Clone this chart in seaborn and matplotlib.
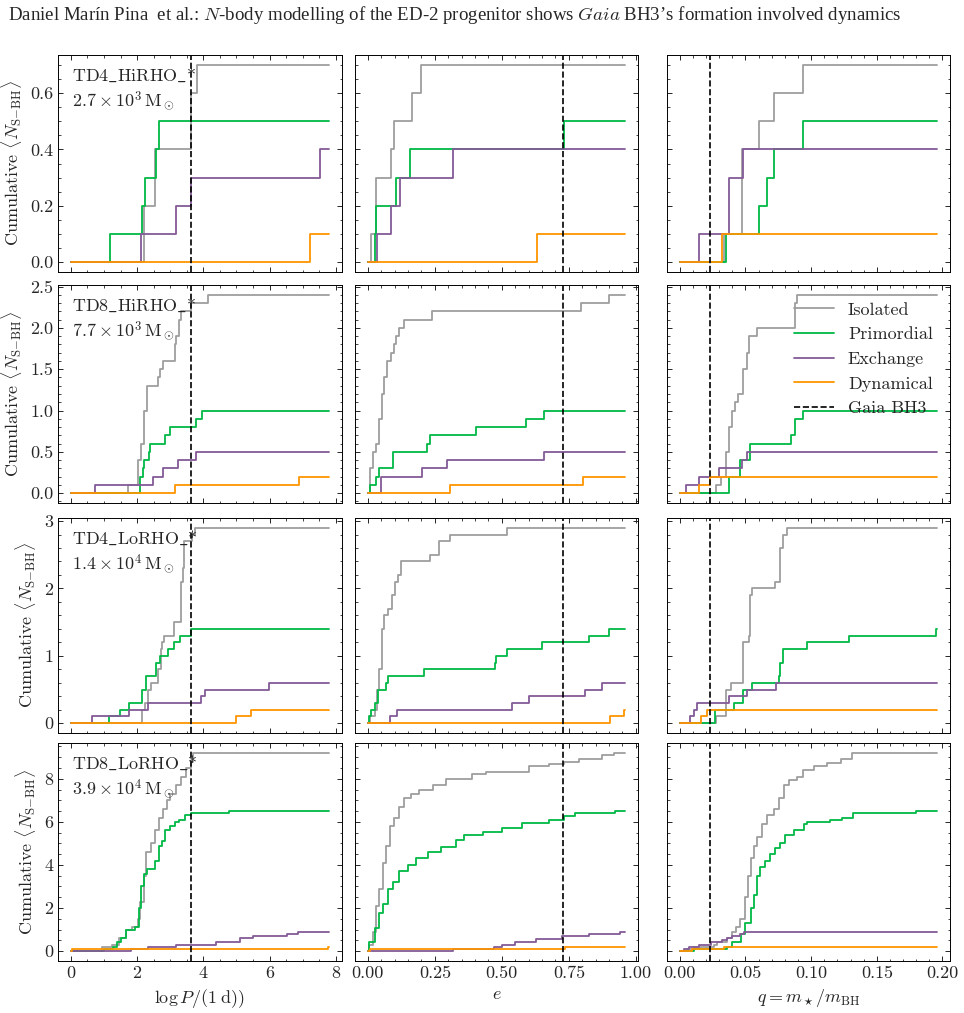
import matplotlib
matplotlib.use("Agg")
import matplotlib.pyplot as plt
import seaborn as sns
from matplotlib.lines import Line2D
from matplotlib.ticker import AutoMinorLocator, MultipleLocator, FormatStrFormatter

# ---- what is plotted -------------------------------------------------
models = [r"$\mathrm{TD4\_HiRHO\_}$*", r"$\mathrm{TD8\_HiRHO\_}$*",
          r"$\mathrm{TD4\_LoRHO\_}$*", r"$\mathrm{TD8\_LoRHO\_}$*"]
masses = [r"$2.7\times10^{3}\,\mathrm{M}_\odot$", r"$7.7\times10^{3}\,\mathrm{M}_\odot$",
          r"$1.4\times10^{4}\,\mathrm{M}_\odot$", r"$3.9\times10^{4}\,\mathrm{M}_\odot$"]
channels = ["Isolated", "Primordial", "Exchange", "Dynamical"]
colours = ["#9e9e9e", "#00B945", "#845B97", "#FF9500"]
xlabels = [r"$\log P/(1\;\mathrm{d}))$", r"$e$", r"$q = m_\star/m_{\rm BH}$"]
x_end = [7.8, 0.96, 0.196]          # last value of each column's curves
gaia_bh3 = [3.63, 0.73, 0.0233]     # Gaia BH3: log P, e, q
x_major = [2, 0.25, 0.05]
x_fmt = ["%d", "%.2f", "%.2f"]
y_major = [0.2, 0.5, 1, 2]
y_fmt = ["%.1f", "%.1f", "%d", "%d"]

# cumulative <N_S-BH> as step curves: channel -> (x of each step, value after it)
hi4_logp = {
    "Isolated": ([0, 2.22, 2.55, 3.63, 3.80], [0, 0.2, 0.4, 0.6, 0.7]),
    "Primordial": ([0, 1.19, 2.15, 2.25, 2.58, 2.66], [0, 0.1, 0.2, 0.3, 0.4, 0.5]),
    "Exchange": ([0, 2.12, 3.18, 3.64, 7.53], [0, 0.1, 0.2, 0.3, 0.4]),
    "Dynamical": ([0, 7.22], [0, 0.1]),
}
hi4_e = {
    "Isolated": ([0, 0.012, 0.031, 0.087, 0.097, 0.165, 0.198], [0, 0.1, 0.3, 0.4, 0.5, 0.6, 0.7]),
    "Primordial": ([0, 0.025, 0.031, 0.105, 0.157, 0.731], [0, 0.1, 0.2, 0.3, 0.4, 0.5]),
    "Exchange": ([0, 0.035, 0.087, 0.120, 0.318], [0, 0.1, 0.2, 0.3, 0.4]),
    "Dynamical": ([0, 0.632], [0, 0.1]),
}
hi4_q = {
    "Isolated": ([0, 0.034, 0.0476, 0.060, 0.0716, 0.0936], [0, 0.1, 0.4, 0.5, 0.6, 0.7]),
    "Primordial": ([0, 0.035, 0.060, 0.0665, 0.072, 0.0936], [0, 0.1, 0.2, 0.3, 0.4, 0.5]),
    "Exchange": ([0, 0.0142, 0.0374, 0.048], [0, 0.1, 0.3, 0.4]),
    "Dynamical": ([0, 0.0324], [0, 0.1]),
}

hi8_logp = {
    "Isolated": ([0, 1.72, 2.04, 2.12, 2.20, 2.30, 2.62, 2.68, 2.78, 3.13, 3.18, 3.26, 3.33, 3.64, 4.14],
                 [0, 0.1, 0.4, 0.6, 1.0, 1.3, 1.4, 1.5, 1.6, 1.8, 1.9, 2.1, 2.2, 2.3, 2.4]),
    "Primordial": ([0, 2.09, 2.17, 2.22, 2.35, 2.40, 2.84, 3.00, 3.77, 3.97],
                   [0, 0.2, 0.3, 0.4, 0.5, 0.6, 0.7, 0.8, 0.9, 1.0]),
    "Exchange": ([0, 0.73, 2.47, 2.78, 3.23, 3.79], [0, 0.1, 0.2, 0.3, 0.4, 0.5]),
    "Dynamical": ([0, 3.13, 6.90], [0, 0.1, 0.2]),
}
hi8_e = {
    "Isolated": ([0, 0.009, 0.021, 0.031, 0.041, 0.053, 0.062, 0.072, 0.087, 0.097, 0.105, 0.118, 0.133, 0.238, 0.797, 0.898],
                 [0, 0.3, 0.5, 0.6, 0.9, 1.2, 1.4, 1.6, 1.7, 1.8, 1.9, 2.0, 2.1, 2.2, 2.3, 2.4]),
    "Primordial": ([0, 0.009, 0.031, 0.041, 0.093, 0.219, 0.232, 0.403, 0.589, 0.657],
                   [0, 0.1, 0.2, 0.3, 0.5, 0.6, 0.7, 0.8, 0.9, 1.0]),
    "Exchange": ([0, 0.050, 0.202, 0.295, 0.657], [0, 0.2, 0.3, 0.4, 0.5]),
    "Dynamical": ([0, 0.306, 0.803], [0, 0.1, 0.2]),
}
hi8_q = {
    "Isolated": ([0, 0.0273, 0.0311, 0.0349, 0.0374, 0.0399, 0.0417, 0.0442, 0.0483, 0.0508, 0.0526, 0.0584, 0.0880, 0.0890],
                 [0, 0.1, 0.2, 0.5, 0.8, 1.0, 1.1, 1.2, 1.5, 1.7, 1.9, 2.0, 2.3, 2.4]),
    "Primordial": ([0, 0.0374, 0.0455, 0.0534, 0.0850, 0.0880, 0.0938], [0, 0.2, 0.4, 0.6, 0.7, 0.9, 1.0]),
    "Exchange": ([0, 0.0050, 0.0147, 0.0298, 0.0475, 0.0508], [0, 0.1, 0.2, 0.3, 0.4, 0.5]),
    "Dynamical": ([0, 0.0142, 0.0230], [0, 0.1, 0.2]),
}

lo4_logp = {
    "Isolated": ([0, 2.15, 2.25, 2.32, 2.42, 2.63, 2.71, 2.76, 2.80, 3.10, 3.33, 3.38, 3.43, 3.67, 3.74],
                 [0, 0.2, 0.3, 0.5, 0.6, 0.8, 1.1, 1.2, 1.3, 1.5, 2.1, 2.3, 2.7, 2.8, 2.9]),
    "Primordial": ([0, 1.16, 1.48, 1.77, 2.15, 2.27, 2.58, 2.68, 2.93, 3.10, 3.30, 3.64],
                   [0, 0.1, 0.2, 0.3, 0.5, 0.7, 0.9, 1.0, 1.1, 1.2, 1.3, 1.4]),
    "Exchange": ([0, 0.64, 1.77, 2.32, 3.94, 4.04, 5.99], [0, 0.1, 0.2, 0.3, 0.4, 0.5, 0.6]),
    "Dynamical": ([0, 4.98, 5.45], [0, 0.1, 0.2]),
}
lo4_e = {
    "Isolated": ([0, 0.009, 0.025, 0.035, 0.043, 0.053, 0.062, 0.074, 0.090, 0.103, 0.112, 0.124, 0.233, 0.264, 0.307, 0.518],
                 [0, 0.1, 0.2, 0.5, 0.8, 1.4, 1.6, 1.7, 1.9, 2.1, 2.2, 2.4, 2.5, 2.7, 2.8, 2.9]),
    "Primordial": ([0, 0.006, 0.012, 0.025, 0.037, 0.068, 0.077, 0.211, 0.475, 0.478, 0.518, 0.648, 0.824, 0.901],
                   [0, 0.1, 0.2, 0.3, 0.5, 0.6, 0.7, 0.8, 0.9, 1.0, 1.1, 1.2, 1.3, 1.4]),
    "Exchange": ([0, 0.081, 0.109, 0.539, 0.601, 0.809, 0.874], [0, 0.1, 0.2, 0.3, 0.4, 0.5, 0.6]),
    "Dynamical": ([0, 0.905, 0.955], [0, 0.1, 0.2]),
}
lo4_q = {
    "Isolated": ([0, 0.0273, 0.0349, 0.0387, 0.0483, 0.0526, 0.0534, 0.0551, 0.0728, 0.0761, 0.0786, 0.0817],
                 [0, 0.1, 0.5, 0.6, 1.2, 1.3, 1.9, 2.0, 2.1, 2.6, 2.8, 2.9]),
    "Primordial": ([0, 0.0268, 0.0412, 0.0483, 0.0551, 0.0753, 0.0766, 0.0786, 0.0968, 0.129, 0.1955],
                   [0, 0.2, 0.3, 0.5, 0.6, 0.7, 0.9, 1.1, 1.2, 1.3, 1.4]),
    "Exchange": ([0, 0.0078, 0.0104, 0.0129, 0.0374, 0.0508, 0.0736], [0, 0.1, 0.2, 0.3, 0.4, 0.5, 0.6]),
    "Dynamical": ([0, 0.0164, 0.0205], [0, 0.1, 0.2]),
}

lo8_logp = {
    "Isolated": ([0, 0.95, 1.25, 1.45, 1.65, 1.85, 2.02, 2.10, 2.20, 2.27, 2.42, 2.55, 2.65, 2.78, 2.90, 3.00, 3.18, 3.33, 3.48, 3.62, 3.70],
                 [0, 0.2, 0.3, 0.6, 1.0, 1.1, 1.5, 2.3, 3.5, 4.6, 5.0, 5.6, 6.2, 6.6, 7.0, 7.3, 7.7, 8.1, 8.5, 8.8, 9.2]),
    "Primordial": ([0, 1.00, 1.28, 1.38, 1.50, 1.65, 1.95, 2.07, 2.12, 2.20, 2.30, 2.55, 2.65, 2.75, 2.83, 2.98, 3.13, 3.28, 3.46, 3.64, 4.78],
                   [0, 0.1, 0.2, 0.4, 0.6, 1.0, 1.1, 2.0, 3.0, 3.6, 3.8, 4.2, 4.9, 5.1, 5.6, 5.8, 6.0, 6.1, 6.3, 6.4, 6.5]),
    "Exchange": ([0, 1.82, 2.32, 3.18, 4.39, 5.10, 5.50, 6.52, 6.87], [0, 0.1, 0.2, 0.3, 0.4, 0.6, 0.7, 0.8, 0.9]),
    "Dynamical": ([0, 0.02, 7.78], [0, 0.1, 0.2]),
}
lo8_e = {
    "Isolated": ([0, 0.005, 0.019, 0.031, 0.043, 0.056, 0.068, 0.081, 0.099, 0.118, 0.136, 0.161, 0.192, 0.242,
                  0.291, 0.390, 0.440, 0.601, 0.675, 0.731, 0.787, 0.874, 0.920],
                 [0, 0.3, 0.9, 2.1, 2.9, 4.1, 4.9, 5.8, 6.2, 6.7, 7.1, 7.3, 7.5, 7.7,
                  8.0, 8.2, 8.3, 8.6, 8.7, 8.8, 8.9, 9.1, 9.2]),
    "Primordial": ([0, 0.006, 0.025, 0.043, 0.056, 0.074, 0.093, 0.118, 0.149, 0.180, 0.223, 0.273, 0.328, 0.359,
                    0.428, 0.502, 0.576, 0.675, 0.731, 0.774, 0.923],
                   [0, 0.4, 1.05, 1.75, 2.2, 2.9, 3.2, 3.7, 4.0, 4.3, 4.6, 4.85, 5.15, 5.4,
                    5.55, 5.7, 5.95, 6.1, 6.25, 6.4, 6.5]),
    "Exchange": ([0, 0.316, 0.471, 0.500, 0.550, 0.626, 0.725, 0.824, 0.940], [0, 0.1, 0.2, 0.3, 0.4, 0.55, 0.7, 0.8, 0.9]),
    "Dynamical": ([0, 0.008, 0.735], [0, 0.1, 0.2]),
}
lo8_q = {
    "Isolated": ([0, 0.0058, 0.0109, 0.026, 0.0285, 0.036, 0.040, 0.043, 0.046, 0.0500, 0.0518, 0.054, 0.0564,
                  0.0589, 0.0627, 0.0665, 0.0716, 0.0753, 0.079, 0.083, 0.089, 0.094, 0.102, 0.112, 0.123, 0.131],
                 [0, 0.1, 0.2, 0.3, 0.4, 0.6, 0.9, 1.1, 1.5, 2.5, 3.5, 4.3, 4.9,
                  5.3, 5.9, 6.3, 6.6, 7.1, 7.7, 7.95, 8.1, 8.4, 8.6, 8.75, 8.9, 9.2]),
    "Primordial": ([0, 0.0109, 0.036, 0.040, 0.0463, 0.050, 0.0539, 0.0564, 0.0589, 0.0614, 0.0652, 0.069, 0.0728,
                    0.0766, 0.0804, 0.0867, 0.0943, 0.0968, 0.1145, 0.1234, 0.132, 0.180],
                   [0, 0.1, 0.2, 0.4, 0.8, 1.3, 2.0, 2.6, 3.5, 3.9, 4.2, 4.5, 4.8,
                    5.0, 5.4, 5.6, 5.9, 6.0, 6.1, 6.2, 6.4, 6.5]),
    "Exchange": ([0, 0.003, 0.007, 0.0147, 0.0235, 0.032, 0.036, 0.040, 0.046, 0.0488],
                 [0, 0.1, 0.2, 0.3, 0.4, 0.5, 0.6, 0.7, 0.8, 0.9]),
    "Dynamical": ([0, 0.0096, 0.0336], [0, 0.1, 0.2]),
}

panels = [[hi4_logp, hi4_e, hi4_q],
          [hi8_logp, hi8_e, hi8_q],
          [lo4_logp, lo4_e, lo4_q],
          [lo8_logp, lo8_e, lo8_q]]

# ---- style -----------------------------------------------------------
sns.set_style("ticks")
plt.rcParams.update({
    "font.family": ["cmr10"],
    "mathtext.fontset": "cm",
    "axes.formatter.use_mathtext": True,
    "font.size": 13,
    "axes.labelsize": 13,
    "axes.linewidth": 0.7,
    "axes.edgecolor": "black",
    "xtick.direction": "in", "ytick.direction": "in",
    "xtick.top": True, "ytick.right": True,
    "xtick.major.size": 3.5, "ytick.major.size": 3.5,
    "xtick.minor.size": 1.8, "ytick.minor.size": 1.8,
    "xtick.major.width": 0.7, "ytick.major.width": 0.7,
    "xtick.minor.width": 0.6, "ytick.minor.width": 0.6,
    "xtick.labelsize": 13, "ytick.labelsize": 13,
})

fig, axes = plt.subplots(4, 3, figsize=(9.64, 10.13), dpi=100, sharex="col", sharey="row")

# axes boxes in pixels (left, top, right, bottom)
col_px = [(58, 342), (355, 638), (667, 950)]
row_px = [(55, 272), (285, 503), (518, 733), (743, 961)]
W, H = 964, 1013

for r in range(4):
    for c in range(3):
        ax = axes[r, c]
        x0, x1 = col_px[c]
        y0, y1 = row_px[r]
        ax.set_position([x0 / W, 1 - y1 / H, (x1 - x0) / W, (y1 - y0) / H])
        data = panels[r][c]
        for name, col in zip(channels, colours):
            xs, ys = data[name]
            xs = list(xs) + [x_end[c]]
            ys = list(ys) + [ys[-1]]
            sns.lineplot(x=xs, y=ys, ax=ax, color=col, lw=1.3, drawstyle="steps-post",
                         estimator=None, legend=False)
        ax.axvline(gaia_bh3[c], color="black", ls="--", lw=1.2)
        ax.xaxis.set_major_locator(MultipleLocator(x_major[c]))
        ax.xaxis.set_major_formatter(FormatStrFormatter(x_fmt[c]))
        ax.yaxis.set_major_locator(MultipleLocator(y_major[r]))
        ax.yaxis.set_major_formatter(FormatStrFormatter(y_fmt[r]))
        ax.xaxis.set_minor_locator(AutoMinorLocator())
        ax.yaxis.set_minor_locator(AutoMinorLocator())
        if c == 0:
            ax.set_ylabel(r"Cumulative $\langle N_{\mathrm{S{-}BH}}\rangle$")
            ax.text(0.05, 0.95, models[r] + "\n" + masses[r], transform=ax.transAxes,
                    ha="left", va="top", fontsize=13, linespacing=1.3)
        if r == 3:
            ax.set_xlabel(xlabels[c])

handles = [Line2D([], [], color=col, lw=1.3) for col in colours]
handles.append(Line2D([], [], color="black", ls="--", lw=1.2))
axes[1, 2].legend(handles, channels + ["Gaia BH3"], loc="upper right", frameon=False,
                  fontsize=13, handlelength=2.2, borderaxespad=0.55, labelspacing=0.5)

fig.text(0.008, 1 - 15 / H,
         r"Daniel Marín Pina  et al.: $N$-body modelling of the ED-2 progenitor shows "
         r"$\mathit{Gaia}$ BH3’s formation involved dynamics",
         family="Liberation Serif", fontsize=13.6, ha="left", va="center")

fig.savefig("out.png", dpi=100)
